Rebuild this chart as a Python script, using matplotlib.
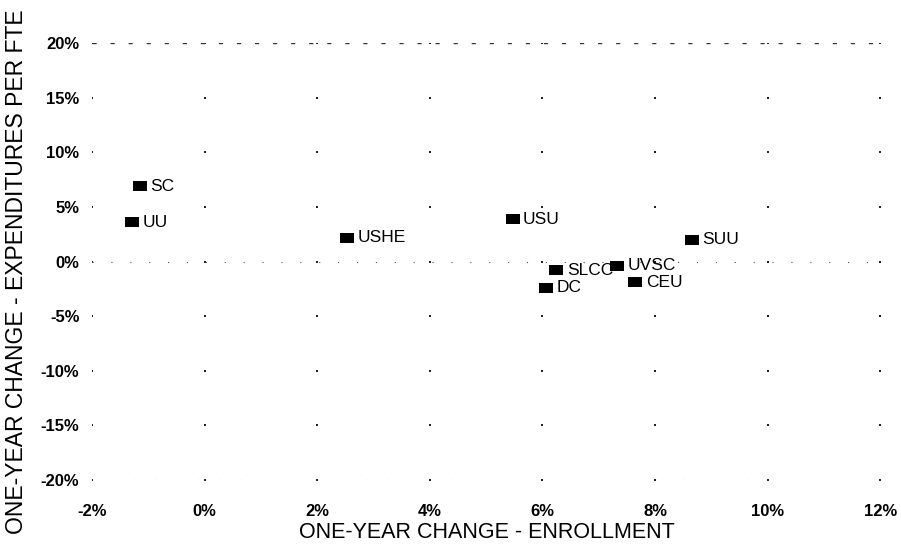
import matplotlib
matplotlib.use("Agg")
import matplotlib.pyplot as plt
import numpy as np

plt.rcParams['font.family'] = ['Liberation Sans', 'DejaVu Sans']

institutions = ["SC", "UU", "USHE", "USU", "SLCC", "DC", "UVSC", "CEU", "SUU"]
enrollment_change = [-1.15, -1.28, 2.53, 5.47, 6.25, 6.06, 7.33, 7.65, 8.65]
expenditure_change = [6.9, 3.6, 2.2, 3.9, -0.8, -2.4, -0.4, -1.9, 2.0]

x_ticks = [-2, 0, 2, 4, 6, 8, 10, 12]
y_ticks = [-20, -15, -10, -5, 0, 5, 10, 15, 20]
x_tick_labels = ["-2%", "0%", "2%", "4%", "6%", "8%", "10%", "12%"]
y_tick_labels = ["-20%", "-15%", "-10%", "-5%", "0%", "5%", "10%", "15%", "20%"]

fig = plt.figure(figsize=(9.01, 5.44), dpi=100)
ax = fig.add_axes([0.102, 0.1176, 0.875, 0.803])
ax.set_xlim(-2, 12)
ax.set_ylim(-20, 20)

# dotted grid: dots at tick intersections
gx, gy = np.meshgrid(x_ticks, y_ticks)
ax.scatter(gx.ravel(), gy.ravel(), s=2.5, color="#222222", marker="s", linewidths=0, zorder=1)
# faint broken lines at top, zero and bottom
ax.axhline(20, color="#333333", lw=1.0, linestyle=(0, (3, 10)), zorder=1)
ax.axhline(0, color="#555555", lw=0.8, linestyle=(0, (1, 16)), zorder=1)
ax.axhline(-20, color="#555555", lw=0.8, linestyle=(0, (1, 18)), zorder=1)

rect = [(-1.3, -1.0), (1.3, -1.0), (1.3, 1.0), (-1.3, 1.0), (-1.3, -1.0)]
ax.scatter(enrollment_change, expenditure_change, marker=rect, s=90, color="black",
           zorder=3, linewidths=0)
for name, xv, yv in zip(institutions, enrollment_change, expenditure_change):
    ax.annotate(name, (xv, yv), xytext=(7.6, 0), textcoords="offset points",
                va="center", ha="left", fontsize=12.5, color="black", zorder=4)

ax.set_xticks(x_ticks)
ax.set_xticklabels(x_tick_labels, fontsize=12, fontweight="bold")
ax.set_yticks(y_ticks)
ax.set_yticklabels(y_tick_labels, fontsize=12, fontweight="bold")
ax.tick_params(axis="both", length=0)
ax.tick_params(axis="x", pad=17)
ax.tick_params(axis="y", pad=9)
for s in ax.spines.values():
    s.set_visible(False)

fig.text(487 / 901, (544 - 538) / 544, "ONE-YEAR CHANGE - ENROLLMENT", fontsize=15.5,
         ha="center", va="baseline")
fig.text(17 / 901, 0.5, "ONE-YEAR CHANGE - EXPENDITURES PER FTE", fontsize=16.5,
         ha="center", va="center", rotation=90)

fig.savefig("out.png", dpi=100)
